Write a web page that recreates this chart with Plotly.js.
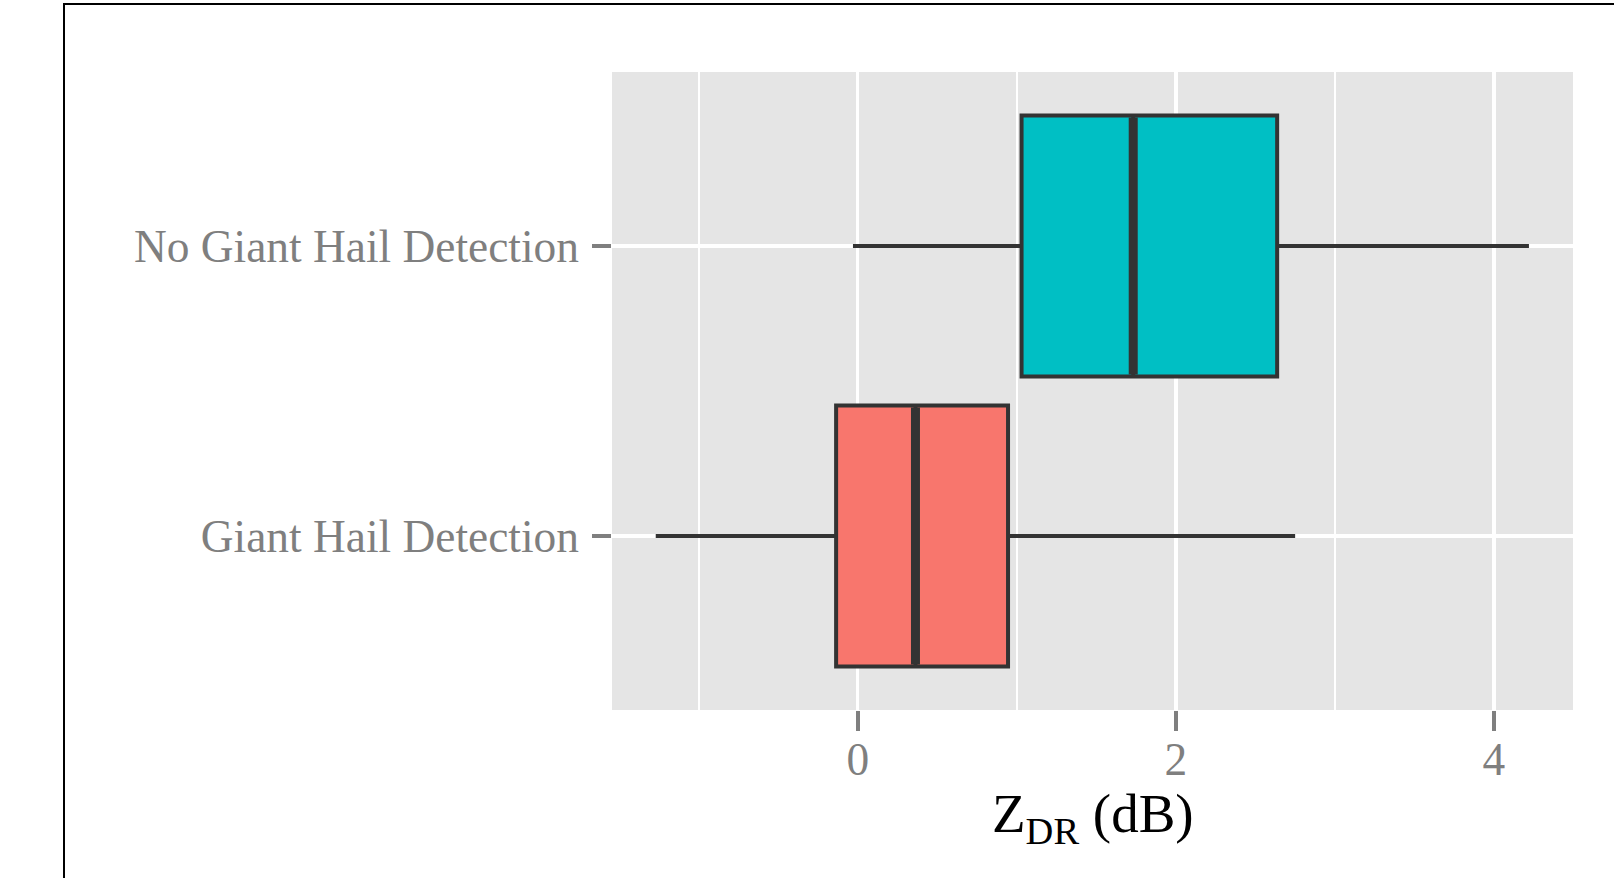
<!DOCTYPE html>
<html>
<head>
<meta charset="utf-8">
<script src="https://cdn.plot.ly/plotly-3.0.1.min.js"></script>
<style>
  html, body { margin: 0; padding: 0; background: #fff; }
  #wrap { position: relative; width: 1614px; height: 878px; overflow: hidden; }
  #chart { position: absolute; left: 0; top: 0; width: 1614px; height: 878px; }
  #frame { position: absolute; left: 63px; top: 3px; width: 1700px; height: 1000px;
           border: 2px solid #000; box-sizing: border-box; pointer-events: none; }
</style>
</head>
<body>
<div id="wrap">
  <div id="chart"></div>
  <div id="frame"></div>
</div>
<script>
// Categories (bottom to top) and box statistics
const categories = ["Giant Hail Detection", "No Giant Hail Detection"];
const positions = [1, 2];
const lowerFence = [-1.27, -0.03];
const q1 = [-0.136, 1.03];
const median = [0.363, 1.732];
const q3 = [0.945, 2.637];
const upperFence = [2.75, 4.22];
const fillColors = ["#F8766D", "#00BFC4"];
const xTicks = [0, 2, 4];
const xTitle = "Z<sub>DR</sub> (dB)";
const boxWidth = 0.9;

const outline = "#333333";
const traces = [];
for (let i = 0; i < categories.length; i++) {
  traces.push({
    type: "box",
    orientation: "h",
    name: categories[i],
    y: [positions[i]],
    q1: [q1[i]],
    median: [median[i]],
    q3: [q3[i]],
    lowerfence: [lowerFence[i]],
    upperfence: [upperFence[i]],
    width: boxWidth,
    whiskerwidth: 0,
    fillcolor: fillColors[i],
    line: { color: outline, width: 4 },
    boxpoints: false,
    hoverinfo: "skip",
    showlegend: false
  });
}
// thicker median bars (ggplot fatten)
for (let i = 0; i < categories.length; i++) {
  traces.push({
    type: "scatter",
    mode: "lines",
    x: [median[i], median[i]],
    y: [positions[i] - boxWidth / 2 + 0.007, positions[i] + boxWidth / 2 - 0.007],
    line: { color: outline, width: 9 },
    hoverinfo: "skip",
    showlegend: false
  });
}

const serif = "Liberation Serif, Times New Roman, serif";
const tickFont = { family: serif, size: 45.4, color: "#7F7F7F" };

const layout = {
  width: 1614,
  height: 878,
  paper_bgcolor: "#FFFFFF",
  plot_bgcolor: "#E5E5E5",
  margin: { l: 612, r: 41, t: 72, b: 168 },
  boxmode: "overlay",
  showlegend: false,
  hovermode: false,
  xaxis: {
    range: [-1.545, 4.497],
    tickmode: "array",
    tickvals: xTicks,
    ticktext: xTicks.map(String),
    ticks: "outside",
    ticklen: 20,
    tickwidth: 4,
    tickcolor: "#7F7F7F",
    tickfont: tickFont,
    ticklabelstandoff: -10,
    showgrid: true,
    gridcolor: "#FFFFFF",
    gridwidth: 3.5,
    zeroline: false,
    showline: false,
    minor: { tickmode: "array", tickvals: [-1, 1, 3], showgrid: true, gridcolor: "#FFFFFF", gridwidth: 1.8, ticks: "" },
    title: { text: "" }
  },
  yaxis: {
    range: [0.4, 2.6],
    tickmode: "array",
    tickvals: positions,
    ticktext: categories,
    ticks: "outside",
    ticklen: 19,
    tickwidth: 4,
    tickcolor: "#7F7F7F",
    tickfont: tickFont,
    ticklabelstandoff: 4,
    showgrid: true,
    gridcolor: "#FFFFFF",
    gridwidth: 3.5,
    zeroline: false,
    showline: false
  },
  annotations: [{
    text: xTitle,
    xref: "paper", yref: "paper",
    x: 0.5, y: -0.112,
    xanchor: "center", yanchor: "top",
    showarrow: false,
    font: { family: serif, size: 55, color: "#000000" }
  }]
};

Plotly.newPlot("chart", traces, layout, { displayModeBar: false, staticPlot: true });
</script>
</body>
</html>
